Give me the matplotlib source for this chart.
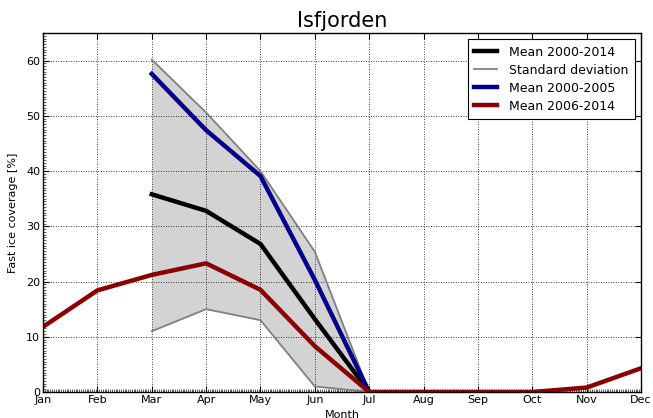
import numpy as np
import matplotlib
matplotlib.use("Agg")
import matplotlib.pyplot as plt
from matplotlib.lines import Line2D

# Monthly fast ice coverage, Isfjorden
months = np.arange(1, 13)
month_labels = ['Jan', 'Feb', 'Mar', 'Apr', 'May', 'Jun',
                'Jul', 'Aug', 'Sep', 'Oct', 'Nov', 'Dec']
nan = np.nan
mean_all = [nan, nan, 35.8, 32.8, 26.8, 13.2, 0.0, nan, nan, nan, nan, nan]
std_upper = [nan, nan, 60.2, 50.6, 40.0, 25.4, 0.0, nan, nan, nan, nan, nan]
std_lower = [nan, nan, 11.0, 15.0, 13.0, 1.0, 0.0, nan, nan, nan, nan, nan]
mean_early = [nan, nan, 57.6, 47.4, 39.1, 20.3, 0.0, nan, nan, nan, nan, nan]
mean_late = [11.8, 18.4, 21.2, 23.3, 18.5, 8.3, 0.0, 0.0, 0.0, 0.0, 0.8, 4.3]

fig = plt.figure(figsize=(6.53, 4.18), dpi=100)
ax = fig.add_axes([0.0659, 0.0622, 0.9157, 0.8588])

up = np.array(std_upper)
lo = np.array(std_lower)
ok = ~np.isnan(up)
ax.fill_between(months[ok], lo[ok], up[ok], color='lightgray', linewidth=0)
ax.plot(months, mean_all, color='black', lw=3.2)
ax.plot(months, std_upper, color='gray', lw=1.3)
ax.plot(months, std_lower, color='gray', lw=1.3)
ax.plot(months, mean_early, color='darkblue', lw=3.2)
ax.plot(months, mean_late, color='darkred', lw=3.2)

ax.set_xlim(1, 12)
ax.set_ylim(0, 65)
ax.set_xticks(months)
ax.set_xticklabels(month_labels)
ax.set_yticks(np.arange(0, 61, 10))
ax.set_xticks(np.arange(1, 12.001, 1 / 30.0), minor=True)
ax.set_yticks(np.arange(0, 65.001, 0.5), minor=True)
ax.tick_params(which='major', direction='in', length=4, top=True, right=True,
               labelsize=8, pad=2)
ax.tick_params(which='minor', direction='in', length=2, width=0.6,
               color='#444444', top=False, right=False)
ax.grid(True, which='major', color='black', linestyle=(0, (1, 2)),
        linewidth=0.6)
for s in ax.spines.values():
    s.set_linewidth(1.0)

ax.set_title("Isfjorden", fontsize=15, pad=4)
ax.set_ylabel("Fast ice coverage [%]", fontsize=8, labelpad=6)
ax.set_xlabel("Month", fontsize=8, labelpad=4)

handles = [Line2D([], [], color='black', lw=3.2),
           Line2D([], [], color='gray', lw=1.3),
           Line2D([], [], color='darkblue', lw=3.2),
           Line2D([], [], color='darkred', lw=3.2)]
labels = ['Mean 2000-2014', 'Standard deviation',
          'Mean 2000-2005', 'Mean 2006-2014']
leg = ax.legend(handles, labels, loc='upper right', fontsize=9,
                fancybox=False, framealpha=1, edgecolor='black',
                borderaxespad=0.5, handlelength=1.85, labelspacing=0.4,
                borderpad=0.5, handletextpad=0.95)
leg.get_frame().set_linewidth(0.8)

fig.savefig("out.png", dpi=100)
